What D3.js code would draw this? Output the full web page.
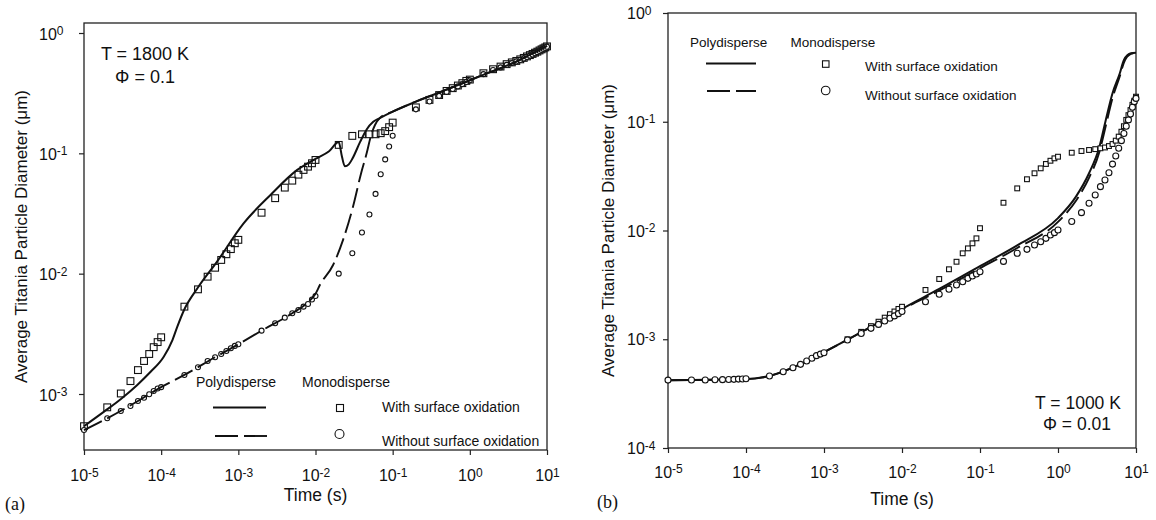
<!DOCTYPE html>
<html><head><meta charset="utf-8">
<script src="https://cdn.jsdelivr.net/npm/d3@7"></script>
<style>body{margin:0;background:#fff}text{font-family:"Liberation Sans",Arial,sans-serif;fill:#111}</style>
</head><body><svg id="c" width="1156" height="520"></svg>
<script>
// ---------- DATA ----------
const xTickValues = [1e-5, 1e-4, 1e-3, 1e-2, 1e-1, 1, 10];
const xTickExps = ["-5", "-4", "-3", "-2", "-1", "0", "1"];
const yTicksA = [1e-3, 1e-2, 1e-1, 1];
const yTickExpsA = ["-3", "-2", "-1", "0"];
const yTicksB = [1e-4, 1e-3, 1e-2, 1e-1, 1];
const yTickExpsB = ["-4", "-3", "-2", "-1", "0"];

// monodisperse sample times (shared by panel a and circles of panel b)
const tMono = [1e-5,2e-5,3e-5,4e-5,5e-5,6e-5,7e-5,8e-5,9e-5,1e-4,
  2e-4,3e-4,4e-4,5e-4,6e-4,7e-4,8e-4,9e-4,1e-3,
  2e-3,3e-3,4e-3,5e-3,6e-3,7e-3,8e-3,9e-3,1e-2,
  2e-2,3e-2,4e-2,5e-2,6e-2,7e-2,8e-2,9e-2,0.1,
  0.2,0.3,0.4,0.5,0.6,0.7,0.8,0.9,1,
  1.5,2,2.5,3,3.5,4,4.5,5,5.5,6,6.5,7,7.5,8,8.5,9,9.5,10];

// Panel (a): T = 1800 K, Phi = 0.1
const monoWithA = [5.4e-4,7.75e-4,1.01e-3,1.28e-3,1.58e-3,1.88e-3,2.15e-3,2.45e-3,2.7e-3,2.96e-3,
  5.32e-3,7.41e-3,9.44e-3,1.12e-2,1.30e-2,1.45e-2,1.60e-2,1.79e-2,1.91e-2,
  3.21e-2,4.24e-2,5.19e-2,5.93e-2,6.65e-2,7.28e-2,7.75e-2,8.27e-2,8.81e-2,
  0.1175,0.1396,0.144,0.144,0.144,0.147,0.153,0.165,0.180,
  0.241,0.278,0.305,0.330,0.348,0.366,0.383,0.40,0.41,
  0.463,0.50,0.526,0.551,0.570,0.586,0.604,0.621,0.639,0.655,0.670,0.686,0.70,0.716,0.731,0.745,0.759,0.774];
const monoWithoutA = [5.02e-4,6.28e-4,7.22e-4,7.95e-4,8.75e-4,9.31e-4,9.94e-4,1.06e-3,1.11e-3,1.14e-3,
  1.44e-3,1.67e-3,1.88e-3,2.02e-3,2.15e-3,2.28e-3,2.40e-3,2.51e-3,2.59e-3,
  3.36e-3,3.87e-3,4.31e-3,4.69e-3,4.99e-3,5.32e-3,5.60e-3,6.1e-3,6.53e-3,
  1.0e-2,1.48e-2,2.2e-2,3.1e-2,4.6e-2,6.7e-2,8.9e-2,0.114,0.14,
  0.232,0.270,0.30,0.324,0.342,0.36,0.376,0.392,0.404,
  0.455,0.492,0.518,0.543,0.562,0.579,0.597,0.614,0.632,0.648,0.663,0.679,0.693,0.709,0.724,0.738,0.752,0.768];
const polyWithA_t = [1e-5,1.82e-5,3.04e-5,4.9e-5,7.3e-5,1.08e-4,1.40e-4,1.62e-4,1.98e-4,2.95e-4,5.3e-4,1.17e-3,2.61e-3,5.8e-3,1e-2,1.5e-2,2.0e-2,2.2e-2,2.4e-2,2.7e-2,3.0e-2,3.8e-2,4.6e-2,5.6e-2,6.8e-2,0.1,0.2,0.56,1.49,4,10];
const polyWithA_d = [5.4e-4,7.13e-4,9.14e-4,1.19e-3,1.53e-3,2.04e-3,2.81e-3,3.63e-3,4.99e-3,7.57e-3,1.26e-2,2.62e-2,4.51e-2,7.28e-2,9.0e-2,0.104,0.124,0.094,0.078,0.081,0.09,0.125,0.158,0.183,0.196,0.222,0.269,0.348,0.449,0.579,0.78];
const polyWithoutA_t = [1e-5,2e-5,5e-5,1e-4,2e-4,5e-4,1e-3,2e-3,5e-3,8e-3,1e-2,1.14e-2,1.69e-2,2.27e-2,3.06e-2,3.9e-2,4.6e-2,5.2e-2,5.9e-2,6.8e-2,0.1,0.2,0.56,1.49,4,10];
const polyWithoutA_d = [5.0e-4,6.28e-4,8.75e-4,1.14e-3,1.44e-3,2.02e-3,2.59e-3,3.36e-3,4.69e-3,5.8e-3,6.8e-3,8.05e-3,1.18e-2,1.9e-2,3.6e-2,6.84e-2,0.1,0.138,0.172,0.196,0.222,0.269,0.348,0.449,0.579,0.78];

// Panel (b): T = 1000 K, Phi = 0.01
const monoWithoutB = [4.21e-4,4.22e-4,4.22e-4,4.24e-4,4.25e-4,4.26e-4,4.28e-4,4.3e-4,4.31e-4,4.33e-4,
  4.59e-4,5.03e-4,5.47e-4,5.88e-4,6.31e-4,6.68e-4,7.07e-4,7.3e-4,7.52e-4,
  9.84e-4,1.13e-3,1.26e-3,1.37e-3,1.47e-3,1.56e-3,1.64e-3,1.72e-3,1.8e-3,
  2.21e-3,2.59e-3,2.88e-3,3.15e-3,3.38e-3,3.63e-3,3.82e-3,3.98e-3,4.18e-3,
  5.2e-3,6.17e-3,6.71e-3,7.35e-3,7.89e-3,8.47e-3,9.1e-3,9.55e-3,1.01e-2,
  1.21e-2,1.46e-2,1.78e-2,2.12e-2,2.53e-2,2.91e-2,3.4e-2,4.08e-2,4.84e-2,5.7e-2,6.7e-2,7.8e-2,9.1e-2,0.104,0.118,0.136,0.153,0.164];
const tSqB = [2e-3,3e-3,4e-3,5e-3,6e-3,7e-3,8e-3,9e-3,1e-2,
  2e-2,3e-2,4e-2,5e-2,6e-2,7e-2,8e-2,9e-2,0.1,
  0.2,0.3,0.4,0.5,0.6,0.7,0.8,0.9,1,
  1.5,2,2.5,3,3.5,4,4.5,5,5.5,6,6.5,7,7.5,8,8.5,9,9.5,10];
const monoWithB = [1.0e-3,1.17e-3,1.32e-3,1.45e-3,1.58e-3,1.7e-3,1.8e-3,1.9e-3,1.99e-3,
  2.84e-3,3.58e-3,4.4e-3,5.16e-3,6.17e-3,6.85e-3,7.62e-3,8.47e-3,1.05e-2,
  1.80e-2,2.44e-2,2.96e-2,3.36e-2,3.73e-2,4.09e-2,4.38e-2,4.61e-2,4.77e-2,
  5.19e-2,5.38e-2,5.5e-2,5.6e-2,5.7e-2,5.8e-2,5.98e-2,6.24e-2,6.7e-2,7.3e-2,8.1e-2,9.1e-2,0.104,0.115,0.128,0.143,0.156,0.17];
const polyB_t = [1e-5,1e-4,2e-4,5e-4,1e-3,2e-3,5e-3,1e-2,3e-2,0.1,0.3,1,1.7,2.5,3.4,4.1,5.0,6.2,7.0,8.6,10];
const polyWithB_d = [4.2e-4,4.3e-4,4.6e-4,5.9e-4,7.6e-4,9.9e-4,1.42e-3,1.9e-3,2.9e-3,4.7e-3,7.3e-3,1.3e-2,2.05e-2,3.36e-2,5.9e-2,0.104,0.183,0.279,0.37,0.426,0.43];
const polyWithoutB_d = [4.2e-4,4.3e-4,4.6e-4,5.9e-4,7.6e-4,9.9e-4,1.42e-3,1.88e-3,2.8e-3,4.5e-3,6.9e-3,1.2e-2,1.88e-2,3.05e-2,5.3e-2,0.092,0.165,0.262,0.35,0.42,0.43];

const legendPoly = "Polydisperse", legendMono = "Monodisperse";
const legendWith = "With surface oxidation", legendWithout = "Without surface oxidation";
const yTitle = "Average Titania Particle Diameter (\u03bcm)", xTitle = "Time (s)";

// ---------- DRAW ----------
const svg = d3.select("#c");
const zip = (a, b) => a.map((v, i) => [v, b[i]]);

function panel(c) {
  const g = svg.append("g");
  const x = d3.scaleLog().domain([1e-5, 10]).range([c.left, c.right]);
  const y = d3.scaleLog().domain(c.yTickDom).range(c.yTickRange);
  const xa = g.append("g").attr("transform", `translate(0,${c.bottom})`)
    .call(d3.axisBottom(x).tickValues(xTickValues).tickSize(5).tickSizeOuter(0).tickFormat(""));
  xa.select(".domain").remove();
  xa.selectAll(".tick line").attr("stroke", "#222").attr("stroke-width", 1.2);
  xa.selectAll(".tick").each(function(d, i) {
    const t = d3.select(this).append("text").attr("y", c.xLabY).attr("text-anchor", "middle")
      .attr("font-size", 16).attr("fill", "#111");
    t.append("tspan").text("10");
    t.append("tspan").attr("dy", -4.5).attr("font-size", 12).text(xTickExps[i]);
  });
  const ya = g.append("g").attr("transform", `translate(${c.left},0)`)
    .call(d3.axisLeft(y).tickValues(c.yTicks).tickSize(5).tickSizeOuter(0).tickFormat(""));
  ya.select(".domain").remove();
  ya.selectAll(".tick line").attr("stroke", "#222").attr("stroke-width", 1.2);
  ya.selectAll(".tick").each(function(d, i) {
    const t = d3.select(this).append("text").attr("x", c.yLabX).attr("y", c.yLabDy)
      .attr("text-anchor", "start").attr("font-size", 16).attr("fill", "#111");
    t.append("tspan").text("10");
    t.append("tspan").attr("dy", -4.5).attr("font-size", 12).text(c.yExps[i]);
  });
  g.append("rect").attr("x", c.left).attr("y", c.top).attr("width", c.right - c.left)
    .attr("height", c.bottom - c.top).attr("fill", "none").attr("stroke", "#222").attr("stroke-width", 1.3);
  g.append("text").attr("x", (c.left + c.right) / 2).attr("y", c.xTitleY).attr("text-anchor", "middle")
    .attr("font-size", 17.5).text(xTitle);
  g.append("text").attr("transform", `translate(${c.yTitleX},${(c.top + c.bottom) / 2}) rotate(-90)`)
    .attr("text-anchor", "middle").attr("font-size", 17).text(yTitle);
  g.append("text").attr("x", c.tagX).attr("y", c.tagY).attr("font-size", 18)
    .style("font-family", "'Liberation Serif','Times New Roman',serif").text(c.tag);
  return {g, x, y};
}

const line = (x, y) => d3.line().x(d => x(d[0])).y(d => y(d[1])).curve(d3.curveMonotoneX);

// ----- Panel (a)
{
  const {g, x, y} = panel({left: 84, right: 547, top: 23, bottom: 450,
    yTickDom: [1e-3, 1], yTickRange: [394, 33], yTicks: yTicksA, yExps: yTickExpsA,
    xLabY: 31, yLabX: -45, yLabDy: 6, xTitleY: 501, yTitleX: 26.5, tag: "(a)", tagX: 5, tagY: 510});
  const pg = g.append("g");
  pg.selectAll("rect.sq").data(zip(tMono, monoWithA)).join("rect").attr("class", "sq")
    .attr("x", d => x(d[0]) - 3.4).attr("y", d => y(d[1]) - 3.4).attr("width", 6.8).attr("height", 6.8)
    .attr("fill", "none").attr("stroke", "#111").attr("stroke-width", 1.1);
  pg.selectAll("circle.ci").data(zip(tMono, monoWithoutA)).join("circle").attr("class", "ci")
    .attr("cx", d => x(d[0])).attr("cy", d => y(d[1])).attr("r", 2.5)
    .attr("fill", "#fff").attr("stroke", "#111").attr("stroke-width", 1.1);
  pg.append("path").datum(zip(polyWithoutA_t, polyWithoutA_d)).attr("d", line(x, y))
    .attr("fill", "none").attr("stroke", "#111").attr("stroke-width", 1.9).attr("stroke-dasharray", "20,6");
  pg.append("path").datum(zip(polyWithA_t, polyWithA_d)).attr("d", line(x, y))
    .attr("fill", "none").attr("stroke", "#111").attr("stroke-width", 2);
  g.append("text").attr("x", 145).attr("y", 60).attr("text-anchor", "middle").attr("font-size", 18).text("T = 1800 K");
  g.append("text").attr("x", 145).attr("y", 83).attr("text-anchor", "middle").attr("font-size", 18).text("\u03a6 = 0.1");
  const lg = g.append("g").attr("font-size", 14);
  lg.append("text").attr("x", 196).attr("y", 387).text(legendPoly);
  lg.append("text").attr("x", 302).attr("y", 387).text(legendMono);
  lg.append("line").attr("x1", 213).attr("x2", 266).attr("y1", 407.5).attr("y2", 407.5).attr("stroke", "#111").attr("stroke-width", 1.9);
  lg.append("line").attr("x1", 215).attr("x2", 267).attr("y1", 436).attr("y2", 436).attr("stroke", "#111").attr("stroke-width", 1.9).attr("stroke-dasharray", "23,6");
  lg.append("rect").attr("x", 336.5).attr("y", 404.5).attr("width", 7).attr("height", 7).attr("fill", "none").attr("stroke", "#111").attr("stroke-width", 1.1);
  lg.append("circle").attr("cx", 339.5).attr("cy", 434).attr("r", 4.5).attr("fill", "none").attr("stroke", "#111").attr("stroke-width", 1.1);
  lg.append("text").attr("x", 382).attr("y", 412).text(legendWith);
  lg.append("text").attr("x", 382).attr("y", 445.5).text(legendWithout);
}

// ----- Panel (b)
{
  const {g, x, y} = panel({left: 668, right: 1136, top: 13, bottom: 448,
    yTickDom: [1e-4, 1], yTickRange: [448, 13], yTicks: yTicksB, yExps: yTickExpsB,
    xLabY: 29.5, yLabX: -41, yLabDy: 5.5, xTitleY: 505, yTitleX: 614, tag: "(b)", tagX: 597, tagY: 508});
  const pg = g.append("g");
  pg.append("path").datum(zip(polyB_t, polyWithoutB_d)).attr("d", line(x, y))
    .attr("fill", "none").attr("stroke", "#111").attr("stroke-width", 1.9).attr("stroke-dasharray", "20,6");
  pg.append("path").datum(zip(polyB_t, polyWithB_d)).attr("d", line(x, y))
    .attr("fill", "none").attr("stroke", "#111").attr("stroke-width", 2);
  pg.selectAll("rect.sq").data(zip(tSqB, monoWithB)).join("rect").attr("class", "sq")
    .attr("x", d => x(d[0]) - 2.4).attr("y", d => y(d[1]) - 2.4).attr("width", 4.8).attr("height", 4.8)
    .attr("fill", "#fff").attr("stroke", "#111").attr("stroke-width", 1.1);
  pg.selectAll("circle.ci").data(zip(tMono, monoWithoutB)).join("circle").attr("class", "ci")
    .attr("cx", d => x(d[0])).attr("cy", d => y(d[1])).attr("r", 3)
    .attr("fill", "#fff").attr("stroke", "#111").attr("stroke-width", 1.1);
  g.append("text").attr("x", 1078).attr("y", 408.5).attr("text-anchor", "middle").attr("font-size", 17.5).text("T = 1000 K");
  g.append("text").attr("x", 1077).attr("y", 430).attr("text-anchor", "middle").attr("font-size", 17.5).text("\u03a6 = 0.01");
  const lg = g.append("g").attr("font-size", 13.5);
  lg.append("text").attr("x", 690).attr("y", 47).text(legendPoly);
  lg.append("text").attr("x", 790.5).attr("y", 47).text(legendMono);
  lg.append("line").attr("x1", 706).attr("x2", 756).attr("y1", 63.5).attr("y2", 63.5).attr("stroke", "#111").attr("stroke-width", 1.9);
  lg.append("line").attr("x1", 707).attr("x2", 756).attr("y1", 91).attr("y2", 91).attr("stroke", "#111").attr("stroke-width", 1.9).attr("stroke-dasharray", "23,6");
  lg.append("rect").attr("x", 822.5).attr("y", 60.8).attr("width", 6.5).attr("height", 6.5).attr("fill", "none").attr("stroke", "#111").attr("stroke-width", 1.1);
  lg.append("circle").attr("cx", 825.7).attr("cy", 90.5).attr("r", 4.3).attr("fill", "none").attr("stroke", "#111").attr("stroke-width", 1.1);
  lg.append("text").attr("x", 865).attr("y", 71).text(legendWith);
  lg.append("text").attr("x", 865).attr("y", 100).text(legendWithout);
}
</script>
</body></html>
